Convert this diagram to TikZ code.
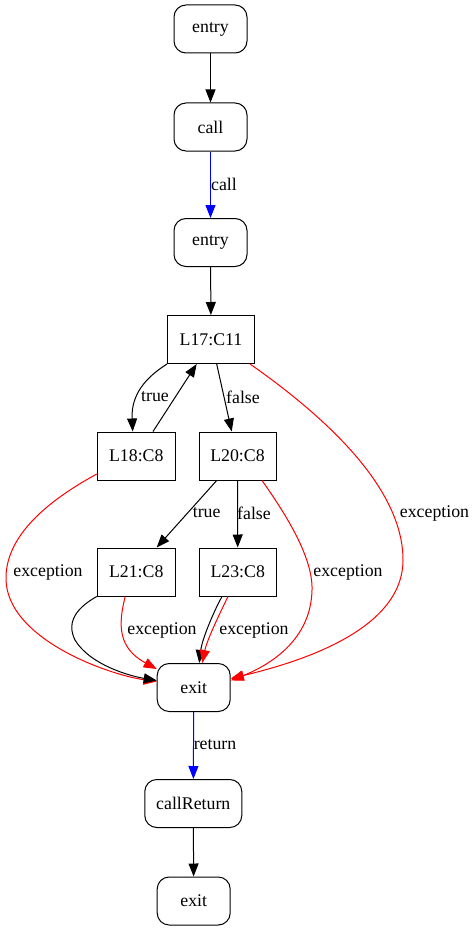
\documentclass[tikz,border=0pt]{standalone}
\usepackage{fontspec}
\setmainfont{Liberation Serif}
\usetikzlibrary{arrows.meta}
\begin{document}
\begin{tikzpicture}[x=1pt,y=-1pt,
 every node/.style={font=\fontsize{17.8}{20}\selectfont},
 rnode/.style={draw, rounded corners=12pt, minimum width=73pt, minimum height=48pt, inner sep=0pt, line width=1pt},
 bnode/.style={draw, minimum height=48pt, inner sep=0pt, line width=1pt},
 edge/.style={line width=1pt, -{Triangle[length=13pt,width=10pt]}},
 lbl/.style={inner sep=0pt}]
\useasboundingbox (0,0) rectangle (476,931);
% nodes
\node[rnode] (entry) at (210.5,29) {entry};
\node[rnode] (call) at (210.5,127) {call};
\node[rnode] (entry2) at (210.5,242.5) {entry};
\node[bnode, minimum width=87pt] (L17) at (211,339.5) {L17:C11};
\node[bnode, minimum width=78pt] (L18) at (136.3,456) {L18:C8};
\node[bnode, minimum width=77pt] (L20) at (237.5,456) {L20:C8};
\node[bnode, minimum width=78pt] (L21) at (136.2,572) {L21:C8};
\node[bnode, minimum width=77pt] (L23) at (237.7,572) {L23:C8};
\node[rnode] (exit) at (193.7,687.5) {exit};
\node[rnode, minimum width=97pt] (cr) at (193.3,803.5) {callReturn};
\node[rnode] (exit2) at (193.7,901) {exit};
% edges
\draw[edge] (entry) -- (call);
\draw[edge, blue] (call) -- (entry2);
\draw[edge] (entry2) -- (L17);
\draw[edge] (L17.south west) .. controls (145,378) and (131,395) .. ([xshift=-3.6pt]L18.north);
\draw[edge] ([xshift=16.7pt]L18.north) -- ([xshift=-14.3pt]L17.south);
\draw[edge] ([xshift=5.7pt]L17.south) -- ([xshift=-5.8pt]L20.north);
\draw[edge, red] ([xshift=-5pt]L17.south east) .. controls (330,420) and (403,490) .. (403,560) .. controls (403,630) and (300,662) .. ([yshift=9pt]exit.east);
\draw[edge, red] ([yshift=-18pt]L18.west) .. controls (40,505) and (5,540) .. (6,580) .. controls (8,640) and (110,675) .. ([yshift=6pt]exit.west);
\draw[edge] ([xshift=-20.8pt]L20.south) -- ([xshift=20.5pt]L21.north);
\draw[edge] (L20.south) -- (L23.north);
\draw[edge, red] ([xshift=24.5pt]L20.south) .. controls (290,520) and (313,560) .. (312,590) .. controls (311,640) and (270,665) .. ([yshift=7pt]exit.east);
\draw[edge] (L21.south west) .. controls (80,606) and (65,620) .. (75,640) .. controls (90,665) and (130,676) .. ([yshift=7pt]exit.west);
\draw[edge, red] ([xshift=-11pt]L21.south) .. controls (118,625) and (118,648) .. ([yshift=-6pt]exit.north west);
\draw[edge] ([xshift=-15.7pt]L23.south) .. controls (212,615) and (202,640) .. ([xshift=5.5pt]exit.north);
\draw[edge, red] ([xshift=-9.7pt]L23.south) .. controls (219,615) and (207,640) .. ([xshift=8.5pt]exit.north);
\draw[edge, blue] (exit) -- (cr);
\draw[edge] (cr) -- (exit2);
% labels
\node[lbl] (lc) at (224,184) {call};
\node[lbl] (t1) at (155,397) {true};
\node[lbl] (f1) at (243,397) {false};
\node[lbl] (e1) at (434.5,513) {exception};
\node[lbl] (t2) at (206.7,513) {true};
\node[lbl] (f2) at (254,513) {false};
\node[lbl] (e2) at (48,572) {exception};
\node[lbl] (e3) at (348,572) {exception};
\node[lbl] (e4) at (162,630) {exception};
\node[lbl] (e5) at (254,630) {exception};
\node[lbl] (lr) at (215,745) {return};
\end{tikzpicture}
\end{document}
